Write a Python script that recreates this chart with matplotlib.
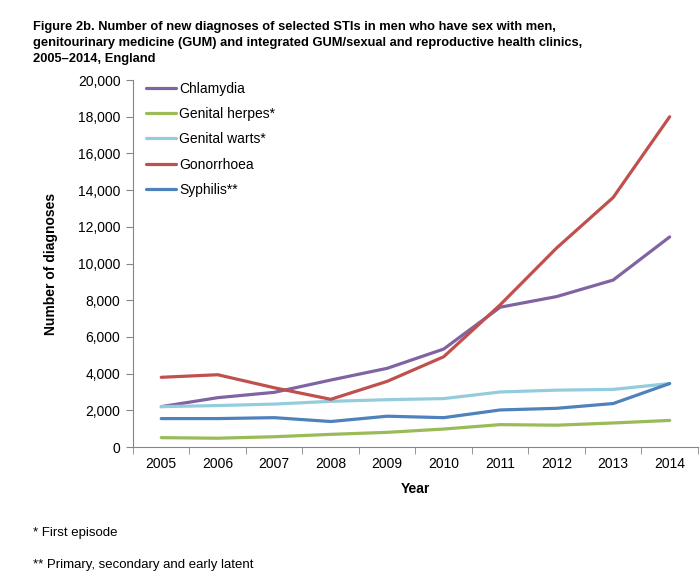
import numpy as np
import matplotlib.pyplot as plt
from matplotlib.ticker import FuncFormatter, FixedLocator

plt.rcParams['font.family'] = ['Liberation Sans', 'DejaVu Sans']

years = [2005, 2006, 2007, 2008, 2009, 2010, 2011, 2012, 2013, 2014]
chlamydia = [2200, 2690, 2980, 3650, 4290, 5340, 7620, 8200, 9100, 11450]
genital_herpes = [510, 480, 560, 690, 800, 980, 1220, 1190, 1310, 1450]
genital_warts = [2200, 2260, 2340, 2490, 2580, 2640, 3000, 3100, 3140, 3460]
gonorrhoea = [3800, 3940, 3230, 2600, 3580, 4920, 7750, 10850, 13600, 18000]
syphilis = [1550, 1550, 1600, 1390, 1680, 1600, 2020, 2110, 2370, 3460]

series = [
    ('Chlamydia', chlamydia, '#8064A2'),
    ('Genital herpes*', genital_herpes, '#9BBB59'),
    ('Genital warts*', genital_warts, '#93CDDD'),
    ('Gonorrhoea', gonorrhoea, '#C0504D'),
    ('Syphilis**', syphilis, '#4F81BD'),
]

fig = plt.figure(figsize=(7, 5.81), dpi=100)
ax = fig.add_axes([0.19, 0.2306, 0.807, 0.6316])

x = np.arange(len(years))
for name, vals, col in series:
    ax.plot(x, vals, color=col, lw=2.3, label=name, solid_capstyle='round')

ax.set_xlim(-0.5, len(years) - 0.5)
ax.set_ylim(0, 20000)
ax.set_yticks(np.arange(0, 20001, 2000))
ax.yaxis.set_major_formatter(FuncFormatter(lambda v, p: '{:,.0f}'.format(v)))
ax.set_xticks(x)
ax.set_xticklabels([str(y) for y in years])
ax.xaxis.set_minor_locator(FixedLocator(np.arange(-0.5, len(years), 1.0)))
ax.tick_params(axis='x', which='major', length=0, labelsize=10, pad=7)
ax.tick_params(axis='x', which='minor', length=5, color='#868686', direction='out')
ax.tick_params(axis='y', length=5, color='#868686', direction='out', labelsize=10, pad=4)

for s in ['top', 'right']:
    ax.spines[s].set_visible(False)
for s in ['left', 'bottom']:
    ax.spines[s].set_color('#868686')

ax.set_xlabel('Year', fontsize=10, fontweight='bold', labelpad=8)
ax.set_ylabel('Number of diagnoses', fontsize=10, fontweight='bold', labelpad=14)

leg = ax.legend(loc='upper left', bbox_to_anchor=(0.0, 1.03), frameon=False, fontsize=10,
                handlelength=2.2, handletextpad=0.2, labelspacing=0.82,
                borderaxespad=0.5)

fig.text(0.047, 0.963, 'Figure 2b. Number of new diagnoses of selected STIs in men who have sex with men,\n'
         'genitourinary medicine (GUM) and integrated GUM/sexual and reproductive health clinics,\n'
         '2005\u20132014, England', fontsize=9.3, fontweight='bold', va='top', linespacing=1.42)

fig.text(0.047, 0.083, '* First episode', fontsize=9.5, va='center')
fig.text(0.047, 0.027, '** Primary, secondary and early latent', fontsize=9.5, va='center')

fig.savefig('out.png', dpi=100)
